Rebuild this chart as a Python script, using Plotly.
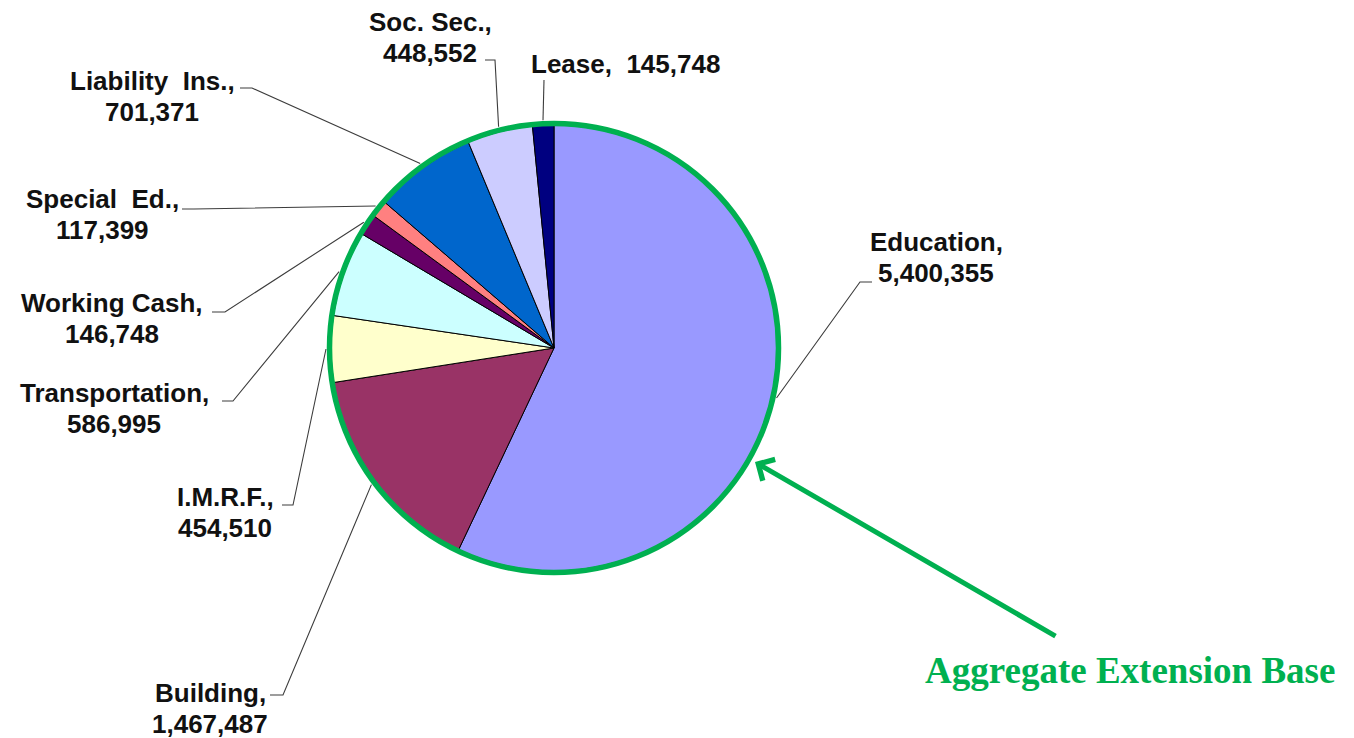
import math
import plotly.graph_objects as go

# ---------------- data ----------------
categories = ["Education", "Building", "I.M.R.F.", "Transportation", "Working Cash",
              "Special\u00a0 Ed.", "Liability\u00a0 Ins.", "Soc. Sec.", "Lease"]
values = [5400355, 1467487, 454510, 586995, 146748, 117399, 701371, 448552, 145748]
colors = ["#9999FF", "#993366", "#FFFFCC", "#CCFFFF", "#660066",
          "#FF8080", "#0066CC", "#CCCCFF", "#000080"]

# ---------------- layout (pixel coordinates of the 1354x738 canvas) ----------------
W, H = 1354, 738
CX, CY, R = 554, 348, 223          # pie centre / radius in px
label_x = [936, 210, 225, 114, 112, 102, 152, 430, 625]
label_y = [241.5, 692.5, 497, 392.5, 302.5, 199, 80.5, 21.5, 64]
elbow_x = [860, 283, 293, 233, 225, 194, 252, 495, 544]
elbow_y = [282, 695, 505, 401, 312, 209, 88, 60, 80]
end_x = [872, 270, 282, 222, 212, 182, 240, 485, 544]
single_line = [False, False, False, False, False, False, False, False, True]
LINE_GAP = 31

fig = go.Figure()

# invisible cartesian frame used as a pixel ruler for shapes/annotations
fig.add_trace(go.Scatter(x=[0, W], y=[0, H], mode="markers",
                         marker=dict(opacity=0), hoverinfo="skip", showlegend=False))

fig.add_trace(go.Pie(
    labels=categories, values=values, sort=False, direction="clockwise", rotation=0,
    textinfo="none", hoverinfo="label+value",
    marker=dict(colors=colors, line=dict(color="#000000", width=1)),
    domain=dict(x=[(CX - R) / W, (CX + R) / W], y=[(H - CY - R) / H, (H - CY + R) / H]),
    showlegend=False,
))

shapes = []
annotations = []
total = sum(values)
cum = 0
for i, v in enumerate(values):
    mid = (cum + v / 2) / total * 2 * math.pi
    cum += v
    rr = R + 5
    px = CX + rr * math.sin(mid)
    py = CY - rr * math.cos(mid)
    path = f"M{px:.1f},{py:.1f} L{elbow_x[i]},{elbow_y[i]} L{end_x[i]},{elbow_y[i]}"
    shapes.append(dict(type="path", xref="x", yref="y", path=path,
                       line=dict(color="#3c3c3c", width=1.1), layer="above"))
    font = dict(family="Liberation Sans, Arial, sans-serif", size=26, color="#111111")
    if single_line[i]:
        annotations.append(dict(x=label_x[i], y=label_y[i], xref="x", yref="y",
                                text=f"<b>{categories[i]},\u00a0 {v:,}</b>", showarrow=False,
                                xanchor="center", yanchor="middle", font=font))
    else:
        annotations.append(dict(x=label_x[i], y=label_y[i], xref="x", yref="y",
                                text=f"<b>{categories[i]},</b>", showarrow=False,
                                xanchor="center", yanchor="middle", font=font))
        annotations.append(dict(x=label_x[i], y=label_y[i] + LINE_GAP, xref="x", yref="y",
                                text=f"<b>{v:,}</b>", showarrow=False,
                                xanchor="center", yanchor="middle", font=font))

GREEN = "#00B050"
shapes.append(dict(type="circle", xref="x", yref="y",
                   x0=CX - R - 1.5, x1=CX + R + 1.5, y0=CY - R - 1.5, y1=CY + R + 1.5,
                   line=dict(color=GREEN, width=5.5), layer="above"))

annotations.append(dict(x=755, y=462, xref="x", yref="y", ax=1057, ay=637,
                        axref="x", ayref="y", text="", showarrow=True,
                        arrowhead=4, arrowsize=0.95, arrowwidth=5, arrowcolor=GREEN, standoff=0))
annotations.append(dict(x=1130, y=670, xref="x", yref="y", text="<b>Aggregate Extension Base</b>",
                        showarrow=False, xanchor="center", yanchor="middle",
                        font=dict(family="Liberation Serif, Times New Roman, serif", size=37, color=GREEN)))

fig.update_layout(
    width=W, height=H, margin=dict(l=0, r=0, t=0, b=0),
    paper_bgcolor="white", plot_bgcolor="white",
    xaxis=dict(range=[0, W], visible=False, fixedrange=True),
    yaxis=dict(range=[H, 0], visible=False, fixedrange=True),
    shapes=shapes, annotations=annotations, showlegend=False,
)

fig.write_html("out.html")
